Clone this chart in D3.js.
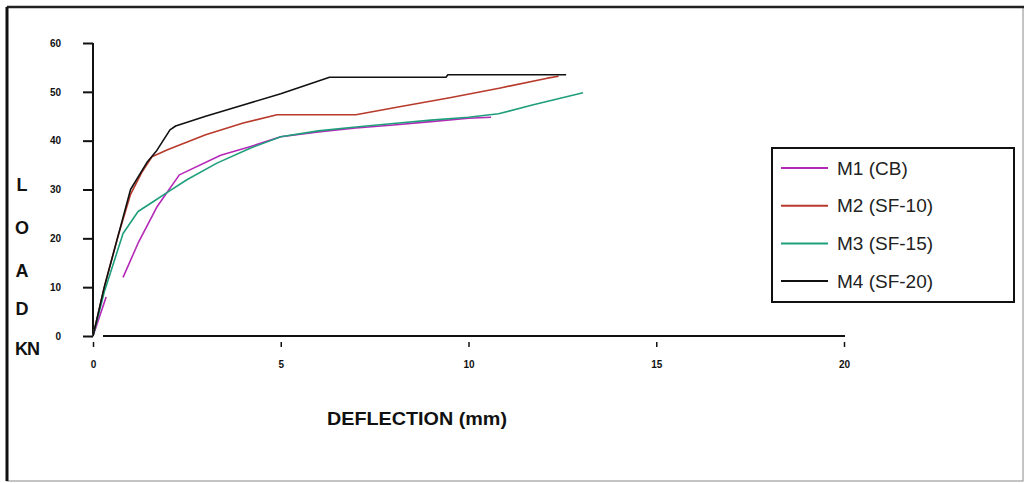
<!DOCTYPE html>
<meta charset="utf-8" />
<title>Load vs Deflection - D3.js</title>
<style>
  body { margin: 0; background: #fff; }
  svg { display: block; }
  .tick text {
    font-family: "Liberation Sans Narrow", "Liberation Sans", Arial, sans-serif;
    font-size: 10px;
    font-weight: bold;
    fill: #111;
  }
  .curve { fill: none; stroke-width: 1.6px; stroke-linejoin: round; }
  .ylab, .xlab {
    font-family: "Liberation Sans Narrow", "Liberation Sans", Arial, sans-serif;
    font-weight: bold;
    fill: #111;
  }
  .legend text {
    font-family: "Liberation Sans", Arial, sans-serif;
    font-size: 19px;
    fill: #222;
  }
</style>
<body>
<svg width="1025" height="483"></svg>
<script src="https://d3js.org/d3.v7.min.js"></script>
<script>
const width = 1025, height = 483;
const svg = d3.select("svg");

// deflection (mm), load (kN)
const seriesNames = ["M1 (CB)", "M2 (SF-10)", "M3 (SF-15)", "M4 (SF-20)"];
const seriesColors = ["#b428b8", "#b83a2c", "#1f9e7c", "#111111"];

const m1 = [[0, 0], [0.35, 8], null, [0.8, 12], [1.2, 19], [1.7, 26.4], [2.3, 33], [3.4, 37], [4.2, 38.8],
  [5, 40.8], [6, 41.8], [7, 42.6], [8, 43.2], [9, 43.9], [10, 44.6], [10.6, 44.8]];
const m2 = [[0, 0], [0.3, 10], [0.65, 20], [1.0, 29], [1.3, 33.5], [1.57, 36.7], [2.0, 38.2],
  [3.0, 41.2], [4.0, 43.6], [4.9, 45.3], [7.0, 45.3], [8.2, 47], [9.5, 48.8], [10.85, 50.8],
  [12.1, 52.8], [12.4, 53.2]];
const m3 = [[0, 0], [0.3, 9], [0.8, 21], [1.2, 25.5], [1.6, 27.5], [2.0, 29.5], [2.5, 32],
  [3.3, 35.4], [4.2, 38.5], [5, 40.8], [6, 42], [7, 42.8], [8, 43.5], [9, 44.2], [10, 44.8],
  [10.8, 45.5], [11.7, 47.3], [13.05, 49.8]];
const m4 = [[0, 0], [0.3, 10], [0.65, 20], [1.0, 30], [1.45, 35.7], [1.7, 38], [2.05, 42.2],
  [2.2, 43], [3, 45], [4, 47.3], [5, 49.6], [6.3, 53], [9.4, 53], [9.45, 53.5], [12.6, 53.5]];
const seriesData = [m1, m2, m3, m4];

const xTicks = [0, 5, 10, 15, 20];
const yTicks = [0, 10, 20, 30, 40, 50, 60];
const yLetters = ["L", "O", "A", "D", "KN"];

const x = d3.scaleLinear().domain([0, 20]).range([93, 844]);
const y = d3.scaleLinear().domain([0, 60]).range([336, 43]);

// outer frame
svg.append("rect").attr("x", 7).attr("y", 7).attr("width", 1016).attr("height", 474)
  .attr("fill", "#fff").attr("stroke", "#888").attr("stroke-width", 1);
svg.append("line").attr("x1", 7).attr("x2", 1024).attr("y1", 7).attr("y2", 7)
  .attr("stroke", "#222").attr("stroke-width", 2.5);
svg.append("line").attr("x1", 7).attr("x2", 7).attr("y1", 7).attr("y2", 481)
  .attr("stroke", "#111").attr("stroke-width", 3);

// y axis
const yAxis = svg.append("g").attr("transform", "translate(93,0)")
  .call(d3.axisLeft(y).tickValues(yTicks).tickSize(10).tickPadding(22).tickSizeOuter(0));
yAxis.select(".domain").attr("stroke", "#111").attr("stroke-width", 2)
  .attr("d", `M0,${y(60)}V${y(0)}`);
yAxis.selectAll(".tick line").attr("stroke", "#111").attr("stroke-width", 2);

// x axis
const xAxis = svg.append("g").attr("transform", "translate(0,336)")
  .call(d3.axisBottom(x).tickValues(xTicks).tickSize(0).tickPadding(25).tickSizeOuter(0));
xAxis.select(".domain").attr("stroke", "#111").attr("stroke-width", 2)
  .attr("d", `M103,0H${x(20) + 1}`);
xAxis.selectAll(".tick line").attr("y1", 6).attr("y2", 11)
  .attr("stroke", "#111").attr("stroke-width", 1.5);

// axis titles
svg.selectAll(".ylab").data(yLetters).join("text")
  .attr("class", "ylab")
  .attr("x", d => d === "KN" ? 27 : 22)
  .attr("y", (d, i) => [185, 228, 271, 309, 349][i])
  .attr("dy", "0.35em")
  .attr("text-anchor", "middle")
  .attr("font-size", 18)
  .attr("letter-spacing", d => d === "KN" ? "-1px" : null)
  .text(d => d);

svg.append("text").attr("class", "xlab")
  .attr("x", 327).attr("y", 418).attr("dy", "0.35em")
  .attr("font-size", 19)
  .attr("textLength", 180).attr("lengthAdjust", "spacingAndGlyphs")
  .text("DEFLECTION (mm)");

// curves
const line = d3.line()
  .defined(d => d !== null)
  .x(d => x(d[0]))
  .y(d => y(d[1]));

svg.append("g").selectAll("path")
  .data(seriesData).join("path")
  .attr("class", "curve")
  .attr("stroke", (d, i) => seriesColors[i])
  .attr("d", line);

// legend
const legend = svg.append("g").attr("class", "legend");
legend.append("rect").attr("x", 772).attr("y", 148).attr("width", 242).attr("height", 154)
  .attr("fill", "#fff").attr("stroke", "#111").attr("stroke-width", 2);
const rows = legend.selectAll("g.row").data(seriesNames).join("g")
  .attr("class", "row")
  .attr("transform", (d, i) => `translate(0,${168 + i * 37.7})`);
rows.append("line").attr("x1", 781).attr("x2", 828).attr("y1", 0).attr("y2", 0)
  .attr("stroke", (d, i) => seriesColors[i]).attr("stroke-width", 2);
rows.append("text").attr("x", 837).attr("dy", "0.35em").text(d => d);
</script>
</body>
